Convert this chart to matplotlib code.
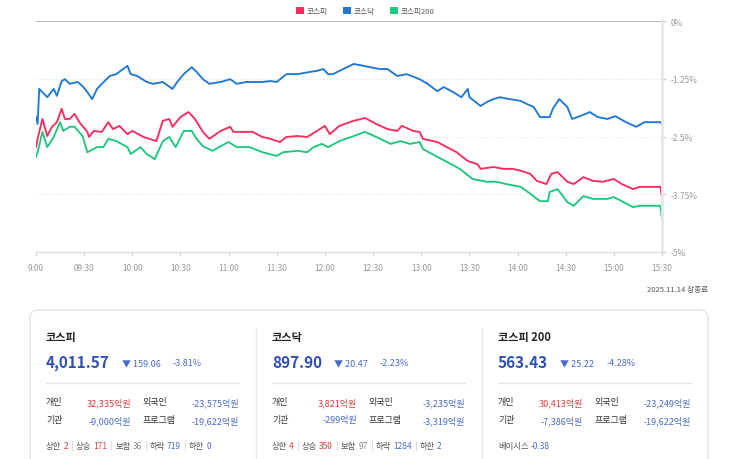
import numpy as np
import matplotlib
matplotlib.use('Agg')
import matplotlib.pyplot as plt
from matplotlib.patches import Patch, FancyBboxPatch
from matplotlib.lines import Line2D

plt.rcParams['font.family'] = ['Noto Sans CJK KR', 'DejaVu Sans']

# intraday % change, minutes after 09:00
kosdaq_min = [0, 1, 2, 7, 11, 13, 16, 18, 21, 26, 29, 32, 35, 38, 41, 46, 50, 57, 59, 63,
              69, 73, 79, 85, 88, 92, 97, 100, 104, 108, 115, 121, 125, 131, 135, 141, 146, 150,
              156, 163, 171, 175, 179, 182, 185, 189, 198, 204, 214, 219, 225, 231, 239, 244,
              250, 254, 260, 265, 269, 270, 277, 281, 285, 289, 295, 302, 306, 310, 314, 320,
              322, 326, 331, 334, 339, 345, 350, 356, 361, 366, 370, 374, 379, 389, 390]
kosdaq_pct = [-2.08, -2.23, -1.47, -1.65, -1.47, -1.62, -1.30, -1.26, -1.36, -1.32, -1.41,
              -1.54, -1.69, -1.47, -1.36, -1.19, -1.15, -0.97, -1.15, -1.19, -1.32, -1.36,
              -1.32, -1.47, -1.32, -1.15, -1.00, -1.10, -1.26, -1.36, -1.32, -1.26, -1.36,
              -1.32, -1.32, -1.32, -1.30, -1.32, -1.15, -1.15, -1.10, -1.08, -1.04, -1.15,
              -1.15, -1.08, -0.93, -0.97, -1.04, -1.04, -1.19, -1.15, -1.26, -1.36, -1.52,
              -1.43, -1.54, -1.65, -1.47, -1.65, -1.84, -1.75, -1.69, -1.65, -1.69, -1.73,
              -1.80, -1.86, -2.08, -2.08, -1.90, -1.69, -1.86, -2.12, -2.06, -1.97, -2.08,
              -2.12, -2.06, -2.16, -2.23, -2.29, -2.19, -2.19, -2.23]

kospi_min = [0, 1, 4, 7, 10, 13, 16, 18, 21, 24, 27, 32, 33, 36, 41, 45, 48, 52, 57, 60,
             67, 75, 79, 83, 85, 90, 95, 99, 104, 108, 115, 121, 123, 129, 135, 141, 146, 152,
             156, 163, 169, 175, 180, 183, 189, 198, 205, 212, 219, 225, 228, 235, 239, 241,
             250, 256, 262, 269, 275, 277, 285, 291, 297, 303, 308, 312, 318, 321, 325, 331,
             335, 341, 347, 353, 360, 365, 372, 376, 389, 390]
kospi_pct = [-2.73, -2.55, -2.12, -2.49, -2.29, -2.19, -1.90, -2.12, -2.12, -2.01, -2.19,
             -2.40, -2.51, -2.38, -2.40, -2.19, -2.34, -2.27, -2.45, -2.38, -2.51, -2.60,
             -2.16, -2.12, -2.29, -2.08, -1.97, -2.12, -2.40, -2.55, -2.38, -2.29, -2.40,
             -2.40, -2.40, -2.51, -2.55, -2.62, -2.51, -2.49, -2.51, -2.38, -2.27, -2.45,
             -2.27, -2.16, -2.10, -2.23, -2.34, -2.38, -2.27, -2.38, -2.40, -2.55, -2.62,
             -2.73, -2.84, -3.03, -3.10, -3.20, -3.16, -3.20, -3.20, -3.25, -3.31, -3.46,
             -3.53, -3.31, -3.27, -3.48, -3.53, -3.38, -3.46, -3.48, -3.42, -3.53, -3.64,
             -3.59, -3.59, -3.81]

k200_min = [0, 1, 4, 7, 11, 15, 17, 21, 24, 29, 32, 38, 42, 45, 50, 57, 59, 65, 69, 74,
            79, 83, 87, 92, 97, 100, 104, 110, 115, 120, 125, 133, 141, 150, 154, 163, 169,
            173, 178, 182, 189, 198, 205, 212, 221, 227, 233, 239, 241, 250, 256, 264, 272,
            281, 287, 293, 302, 308, 314, 319, 320, 325, 331, 335, 341, 347, 356, 360, 366,
            372, 376, 389, 390]
k200_pct = [-2.94, -2.84, -2.40, -2.73, -2.51, -2.19, -2.38, -2.29, -2.29, -2.49, -2.84,
            -2.73, -2.73, -2.55, -2.60, -2.73, -2.88, -2.73, -2.88, -2.99, -2.60, -2.51,
            -2.73, -2.38, -2.38, -2.55, -2.71, -2.81, -2.71, -2.62, -2.73, -2.73, -2.84,
            -2.92, -2.84, -2.81, -2.84, -2.73, -2.66, -2.73, -2.60, -2.49, -2.40, -2.51,
            -2.66, -2.60, -2.66, -2.62, -2.77, -2.94, -3.05, -3.20, -3.42, -3.48, -3.48,
            -3.53, -3.59, -3.74, -3.90, -3.90, -3.70, -3.64, -3.92, -4.00, -3.79, -3.85,
            -3.85, -3.81, -3.92, -4.03, -4.00, -4.00, -4.28]

x_ticks = list(range(0, 391, 30))
x_labels = ['9:00', '09:30', '10:00', '10:30', '11:00', '11:30', '12:00', '12:30',
            '13:00', '13:30', '14:00', '14:30', '15:00', '15:30']
y_ticks = [0, -1.25, -2.5, -3.75, -5]
y_labels = ['0%', '-1.25%', '-2.5%', '-3.75%', '-5%']

series_names = ['코스피', '코스닥', '코스피200']
series_colors = ['#f72d5c', '#1f78d6', '#1fc67f']

# summary cards
card_titles = ['코스피', '코스닥', '코스피 200']
card_values = ['4,011.57', '897.90', '563.43']
card_changes = ['159.06', '20.47', '25.22']
card_rates = ['-3.81%', '-2.23%', '-4.28%']
card_indiv = ['32,335억원', '3,821억원', '30,413억원']
card_foreign = ['-23,575억원', '-3,235억원', '-23,249억원']
card_inst = ['-9,000억원', '-299억원', '-7,386억원']
card_program = ['-19,622억원', '-3,319억원', '-19,622억원']
breadth_labels = ['상한', '상승', '보합', '하락', '하한']
breadth_colors = ['#e03c3c', '#e03c3c', '#888888', '#4a6cc8', '#4a6cc8']
card_breadth = [[2, 171, 36, 719, 0], [4, 350, 97, 1284, 2]]
basis_value = '-0.38'

W, H = 743, 460
fig = plt.figure(figsize=(W / 100, H / 100), dpi=100)

# background overlay in pixel coordinates
bg = fig.add_axes([0, 0, 1, 1])
bg.set_xlim(0, W)
bg.set_ylim(H, 0)
bg.axis('off')

ax = fig.add_axes([36 / W, 1 - 253 / H, 626 / W, 231 / H])
for name, mins, pct, c in zip(series_names, [kospi_min, kosdaq_min, k200_min],
                              [kospi_pct, kosdaq_pct, k200_pct], series_colors):
    ax.plot(mins, pct, color=c, lw=1.35, solid_joinstyle='round')

ax.set_xlim(0, 390)
ax.set_ylim(-5, 0)
ax.axhline(0, color='#aaaaaa', lw=1.2, zorder=0)
for yv in y_ticks[1:-1]:
    ax.axhline(yv, color='#e2e2e2', lw=0.8, ls=(0, (1, 2)), zorder=0)
ax.yaxis.tick_right()
ax.set_yticks(y_ticks)
ax.set_yticklabels(y_labels)
ax.set_xticks(x_ticks)
ax.set_xticklabels(x_labels)
ax.tick_params(axis='both', colors='#cccccc', labelcolor='#999999', labelsize=6,
               length=3, width=0.8)
ax.tick_params(axis='x', pad=5)
ax.tick_params(axis='y', pad=3)
for s in ['left', 'top']:
    ax.spines[s].set_visible(False)
ax.spines['right'].set_color('#e8e8e8')
ax.spines['right'].set_linewidth(2)
ax.spines['bottom'].set_color('#dddddd')
ax.spines['bottom'].set_linewidth(1)
ax.patch.set_alpha(0)

handles = [Patch(facecolor=c, edgecolor='none') for c in series_colors]
fig.legend(handles, series_names, loc='center', bbox_to_anchor=(365 / W, 1 - 12 / H),
           ncol=3, frameon=False, fontsize=5.5, labelcolor='#555555',
           handlelength=1.1, handleheight=1.1, handletextpad=0.3, columnspacing=2.0)

bg.text(708, 290, '2025.11.14 장종료', fontsize=5.5, color='#555555', ha='right', va='center')

# cards
card = FancyBboxPatch((30, 311), 678, 220, boxstyle='round,pad=0,rounding_size=8',
                      facecolor='white', edgecolor='#e3e3e3', lw=1)
bg.add_patch(card)
for xd in [256, 482]:
    bg.add_line(Line2D([xd, xd], [330, 470], color='#e8e8e8', lw=1))

fig.canvas.draw()
r = fig.canvas.get_renderer()


def right_edge(t):
    return t.get_window_extent(r).x1


blue_big = '#2f4fb6'
blue_sm = '#4a6cc8'
red = '#e03c3c'
dark = '#333333'

for i, cx in enumerate([46, 272, 498]):
    bg.text(cx, 338, card_titles[i], fontsize=8, fontweight='bold', color='#222222', va='center')
    t = bg.text(cx, 363, card_values[i], fontsize=11, fontweight='bold', color=blue_big, va='center')
    t = bg.text(right_edge(t) + 12, 364, '▼ ' + card_changes[i], fontsize=6.5, color=blue_sm, va='center')
    bg.text(right_edge(t) + 12, 364, card_rates[i], fontsize=6.5, color=blue_sm, va='center')
    bg.add_line(Line2D([cx, cx + 193], [384, 384], color='#e6e6e6', lw=1))

    bg.text(cx, 403, '개인', fontsize=6.5, color=dark, va='center')
    bg.text(cx + 85, 403, card_indiv[i], fontsize=6.5, color=red, va='center', ha='right')
    bg.text(cx + 97, 403, '외국인', fontsize=6.5, color=dark, va='center')
    bg.text(cx + 193, 403, card_foreign[i], fontsize=6.5, color=blue_sm, va='center', ha='right')
    bg.text(cx, 421, '기관', fontsize=6.5, color=dark, va='center')
    bg.text(cx + 85, 421, card_inst[i], fontsize=6.5, color=blue_sm, va='center', ha='right')
    bg.text(cx + 97, 421, '프로그램', fontsize=6.5, color=dark, va='center')
    bg.text(cx + 193, 421, card_program[i], fontsize=6.5, color=blue_sm, va='center', ha='right')

    if i < 2:
        x = cx
        for j, (lab, val) in enumerate(zip(breadth_labels, card_breadth[i])):
            t = bg.text(x, 447, lab, fontsize=6, color='#555555', va='center')
            t = bg.text(right_edge(t) + 2, 447, str(val), fontsize=6,
                        color=breadth_colors[j], va='center')
            x = right_edge(t) + 4
            if j < len(breadth_labels) - 1:
                bg.add_line(Line2D([x, x], [442, 451], color='#dddddd', lw=0.8))
                x += 4
    else:
        t = bg.text(cx, 447, '베이시스', fontsize=6, color='#555555', va='center')
        bg.text(right_edge(t) + 2, 447, basis_value, fontsize=6, color=blue_sm, va='center')

fig.savefig('out.png', dpi=100)
